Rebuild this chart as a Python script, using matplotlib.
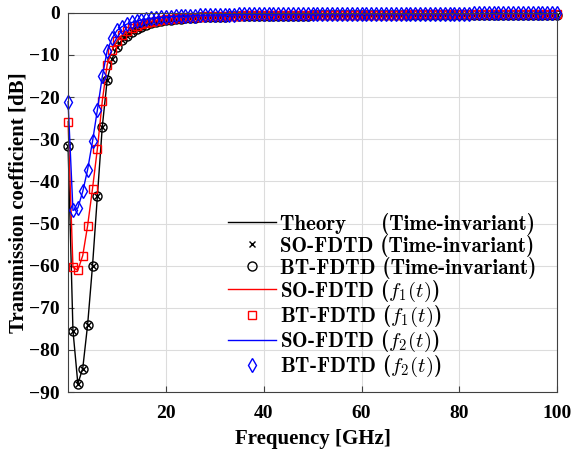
import matplotlib
matplotlib.use('Agg')
import matplotlib.pyplot as plt
import numpy as np

plt.rcParams['font.family'] = 'Liberation Serif'
plt.rcParams['font.weight'] = 'bold'
plt.rcParams['mathtext.fontset'] = 'cm'

# frequency grid [GHz]
freq = np.arange(0, 101)

# time-invariant (theory / SO-FDTD / BT-FDTD) [dB]
s_inv = [-31.5, -75.4, -88.0, -84.4, -74.0, -60.0, -43.4, -27.0, -15.9, -11.0,
         -8.0, -6.5, -5.4, -4.5, -3.8, -3.3, -2.9, -2.5, -2.2, -2.0,
         -1.8, -1.65, -1.5, -1.4, -1.3, -1.2, -1.15, -1.1, -1.05, -1.0,
         -0.95, -0.92, -0.9, -0.87, -0.85, -0.83, -0.81, -0.79, -0.77, -0.75,
         -0.74, -0.73, -0.72, -0.71, -0.7, -0.69, -0.68, -0.67, -0.66, -0.65,
         -0.64, -0.63, -0.62, -0.62, -0.61, -0.6, -0.6, -0.59, -0.58, -0.58,
         -0.57, -0.57, -0.56, -0.56, -0.55, -0.55, -0.54, -0.54, -0.53, -0.53,
         -0.52, -0.52, -0.52, -0.51, -0.51, -0.5, -0.5, -0.5, -0.49, -0.49,
         -0.49, -0.48, -0.48, -0.48, -0.47, -0.47, -0.47, -0.46, -0.46, -0.46,
         -0.45, -0.45, -0.45, -0.45, -0.44, -0.44, -0.44, -0.44, -0.43, -0.43,
         -0.43]

# time-varying f1(t) [dB]
s_f1 = [-25.8, -60.4, -61.1, -57.6, -50.5, -41.7, -32.2, -20.9, -12.3, -8.8,
        -6.6, -5.3, -4.4, -3.7, -3.1, -2.7, -2.4, -2.1, -1.9, -1.7,
        -1.5, -1.4, -1.3, -1.2, -1.1, -1.0, -0.95, -0.9, -0.85, -0.8,
        -0.77, -0.74, -0.71, -0.69, -0.67, -0.65, -0.63, -0.61, -0.6, -0.58,
        -0.57, -0.56, -0.55, -0.54, -0.53, -0.52, -0.51, -0.5, -0.5, -0.49,
        -0.48, -0.48, -0.47, -0.47, -0.46, -0.46, -0.45, -0.45, -0.44, -0.44,
        -0.43, -0.43, -0.43, -0.42, -0.42, -0.42, -0.41, -0.41, -0.41, -0.4,
        -0.4, -0.4, -0.39, -0.39, -0.39, -0.39, -0.38, -0.38, -0.38, -0.38,
        -0.37, -0.37, -0.37, -0.37, -0.36, -0.36, -0.36, -0.36, -0.36, -0.35,
        -0.35, -0.35, -0.35, -0.35, -0.34, -0.34, -0.34, -0.34, -0.34, -0.33,
        -0.33]

# time-varying f2(t) [dB]
s_f2 = [-21.1, -46.9, -46.3, -42.4, -37.2, -30.5, -23.0, -15.1, -9.0, -6.0,
        -4.2, -3.3, -2.7, -2.3, -2.0, -1.7, -1.5, -1.3, -1.2, -1.1,
        -1.0, -0.9, -0.85, -0.8, -0.75, -0.7, -0.65, -0.6, -0.57, -0.54,
        -0.51, -0.48, -0.46, -0.44, -0.42, -0.4, -0.38, -0.37, -0.36, -0.35,
        -0.34, -0.33, -0.32, -0.31, -0.3, -0.29, -0.28, -0.28, -0.27, -0.27,
        -0.26, -0.26, -0.25, -0.25, -0.24, -0.24, -0.23, -0.23, -0.23, -0.22,
        -0.22, -0.22, -0.21, -0.21, -0.21, -0.2, -0.2, -0.2, -0.2, -0.19,
        -0.19, -0.19, -0.19, -0.18, -0.18, -0.18, -0.18, -0.18, -0.17, -0.17,
        -0.17, -0.17, -0.17, -0.16, -0.16, -0.16, -0.16, -0.16, -0.16, -0.15,
        -0.15, -0.15, -0.15, -0.15, -0.15, -0.14, -0.14, -0.14, -0.14, -0.14,
        -0.14]

xticks = [20, 40, 60, 80, 100]
yticks = [0, -10, -20, -30, -40, -50, -60, -70, -80, -90]

fig = plt.figure(figsize=(5.72, 4.57), dpi=100)
ax = fig.add_axes([0.119, 0.142, 0.855, 0.83])

ax.plot(freq, s_inv, '-', color='k', lw=1.0, clip_on=False,
        label='Theory     (Time-invariant)')
ax.plot(freq, s_inv, 'x', color='k', ms=5, mew=1.0, clip_on=False,
        label='SO-FDTD (Time-invariant)')
ax.plot(freq, s_inv, 'o', color='k', ms=6.5, mfc='none', mew=1.0, clip_on=False,
        label='BT-FDTD (Time-invariant)')
ax.plot(freq, s_f1, '-', color='r', lw=1.0, clip_on=False,
        label=r'SO-FDTD ($f_1(t)$)')
ax.plot(freq, s_f1, 's', color='r', ms=6, mfc='none', mew=1.0, clip_on=False,
        label=r'BT-FDTD ($f_1(t)$)')
ax.plot(freq, s_f2, '-', color='b', lw=1.0, clip_on=False,
        label=r'SO-FDTD ($f_2(t)$)')
ax.plot(freq, s_f2, 'd', color='b', ms=7, mfc='none', mew=1.0, clip_on=False,
        label=r'BT-FDTD ($f_2(t)$)')

ax.set_xlim(0, 100)
ax.set_ylim(-90, 0)
ax.set_xticks(xticks)
ax.set_yticks(yticks)
ax.grid(True, color='#dcdcdc', lw=0.8)
ax.set_axisbelow(True)
ax.tick_params(labelsize=14, direction='in', length=4, color='#404040')
ax.tick_params(axis='x', pad=9)
ax.tick_params(axis='y', pad=6)
for lab in ax.get_xticklabels() + ax.get_yticklabels():
    lab.set_fontweight('bold')
for sp in ax.spines.values():
    sp.set_color('#404040')

ax.set_xlabel('Frequency [GHz]', fontsize=15, fontweight='bold', labelpad=5)
ax.set_ylabel('Transmission coefficient [dB]', fontsize=15, fontweight='bold', labelpad=0)

leg = ax.legend(loc='lower left', frameon=False, handlelength=2.3, handletextpad=0.2,
                labelspacing=0.0, borderaxespad=0.0, bbox_to_anchor=(0.31, 0.012),
                prop={'family': 'cmb10', 'size': 15})

fig.savefig('out.png', dpi=100)
